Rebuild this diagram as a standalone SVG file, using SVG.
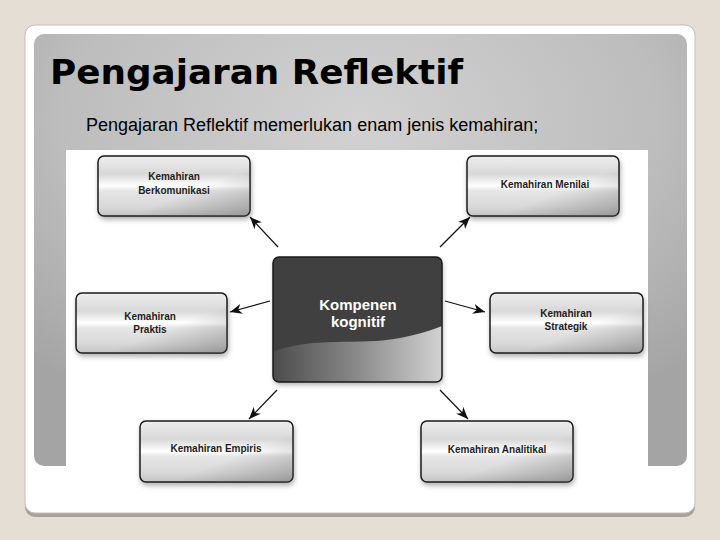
<svg xmlns="http://www.w3.org/2000/svg" width="720" height="540" viewBox="0 0 720 540">
<defs>
<radialGradient id="panel" cx="0.5" cy="0.2" r="0.75">
<stop offset="0" stop-color="#d2d2d2"/>
<stop offset="0.6" stop-color="#bdbdbd"/>
<stop offset="1" stop-color="#a4a4a4"/>
</radialGradient>
<linearGradient id="silver" x1="0" y1="0" x2="0" y2="1">
<stop offset="0" stop-color="#eeeeee"/>
<stop offset="0.3" stop-color="#d8d8d8"/>
<stop offset="0.44" stop-color="#f4f4f4"/>
<stop offset="0.5" stop-color="#ffffff"/>
<stop offset="0.58" stop-color="#e6e6e6"/>
<stop offset="0.85" stop-color="#d8d8d8"/>
<stop offset="1" stop-color="#c4c4c4"/>
</linearGradient>
<linearGradient id="shade" x1="0" y1="0" x2="1" y2="1">
<stop offset="0.6" stop-color="#606060" stop-opacity="0"/>
<stop offset="1" stop-color="#606060" stop-opacity="0.45"/>
</linearGradient>
<linearGradient id="wave" x1="0" y1="0" x2="1" y2="0">
<stop offset="0" stop-color="#4c4c4c"/>
<stop offset="0.5" stop-color="#8a8a8a"/>
<stop offset="1" stop-color="#d2d2d2"/>
</linearGradient>
<clipPath id="cclip"><rect x="273" y="257" width="169" height="125" rx="6"/></clipPath>
<filter id="sh" x="-20%" y="-20%" width="140%" height="150%">
<feDropShadow dx="1" dy="3" stdDeviation="2.5" flood-color="#000" flood-opacity="0.3"/>
</filter>
<marker id="ah" markerUnits="userSpaceOnUse" markerWidth="13" markerHeight="10" refX="12" refY="5" orient="auto">
<path d="M0,0 L12,5 L0,10 L3.5,5 Z" fill="#111"/>
</marker>
<style>
.node{fill:url(#silver);stroke:#1a1a1a;stroke-width:1.5;filter:url(#sh)}
.ov{fill:url(#shade);stroke:none}
.lbl{font-family:"Liberation Sans",Arial,sans-serif;font-weight:bold;font-size:10px;fill:#1e1e1e;text-anchor:middle}
.conn line{stroke:#111;stroke-width:1.2;marker-end:url(#ah)}
</style>
</defs>
<rect width="720" height="540" fill="#e4ded4"/>
<rect x="25" y="29" width="670" height="488" rx="10" fill="#a8a49c"/>
<rect x="25" y="25" width="670" height="488" rx="10" fill="#ffffff" stroke="#c4bfb5" stroke-width="1"/>
<rect x="34" y="34" width="653" height="432" rx="10" fill="url(#panel)"/>
<text x="50" y="84" font-family="'DejaVu Sans',Verdana,sans-serif" font-weight="bold" font-size="34" fill="#000" textLength="413" lengthAdjust="spacingAndGlyphs">Pengajaran Reflektif</text>
<text x="86" y="131" font-family="'Liberation Sans',Arial,sans-serif" font-size="18" fill="#000">Pengajaran Reflektif memerlukan enam jenis kemahiran;</text>
<rect x="66" y="150" width="582" height="318" fill="#ffffff"/>

<g class="conn" id="connectors">
<line x1="278" y1="247" x2="250" y2="217"/>
<line x1="270" y1="301" x2="230" y2="312"/>
<line x1="440" y1="247" x2="470" y2="217"/>
<line x1="445" y1="301" x2="485" y2="312"/>
<line x1="277" y1="390" x2="249" y2="419"/>
<line x1="440" y1="390" x2="468" y2="419"/>
</g>

<g id="center">
<rect x="273" y="257" width="169" height="125" rx="6" fill="#404040" filter="url(#sh)"/>
<path d="M273,352 C310,336 360,346 400,338 C420,334 432,330 442,326 L442,382 L273,382 Z" fill="url(#wave)" clip-path="url(#cclip)"/>
<rect x="273" y="257" width="169" height="125" rx="6" fill="none" stroke="#1a1a1a" stroke-width="1.5"/>
<text x="358" y="310" font-family="'Liberation Sans',Arial,sans-serif" font-weight="bold" font-size="15" fill="#ffffff" text-anchor="middle">Kompenen</text>
<text x="358" y="327" font-family="'Liberation Sans',Arial,sans-serif" font-weight="bold" font-size="15" fill="#ffffff" text-anchor="middle">kognitif</text>
</g>

<g id="berkomunikasi">
<rect class="node" x="98" y="156" width="152" height="60" rx="6"/>
<rect class="ov" x="98" y="156" width="152" height="60" rx="6"/>
<text class="lbl" x="174" y="180">Kemahiran</text>
<text class="lbl" x="174" y="194">Berkomunikasi</text>
</g>

<g id="menilai">
<rect class="node" x="467" y="156" width="152" height="60" rx="6"/>
<rect class="ov" x="467" y="156" width="152" height="60" rx="6"/>
<text class="lbl" x="545" y="188">Kemahiran Menilai</text>
</g>

<g id="praktis">
<rect class="node" x="76" y="293" width="151" height="60" rx="6"/>
<rect class="ov" x="76" y="293" width="151" height="60" rx="6"/>
<text class="lbl" x="150" y="320">Kemahiran</text>
<text class="lbl" x="150" y="333">Praktis</text>
</g>

<g id="strategik">
<rect class="node" x="490" y="293" width="153" height="60" rx="6"/>
<rect class="ov" x="490" y="293" width="153" height="60" rx="6"/>
<text class="lbl" x="566" y="317">Kemahiran</text>
<text class="lbl" x="566" y="330">Strategik</text>
</g>

<g id="empiris">
<rect class="node" x="140" y="421" width="153" height="61" rx="6"/>
<rect class="ov" x="140" y="421" width="153" height="61" rx="6"/>
<text class="lbl" x="216" y="452">Kemahiran Empiris</text>
</g>

<g id="analitikal">
<rect class="node" x="421" y="421" width="152" height="61" rx="6"/>
<rect class="ov" x="421" y="421" width="152" height="61" rx="6"/>
<text class="lbl" x="497" y="453">Kemahiran Analitikal</text>
</g>
</svg>
